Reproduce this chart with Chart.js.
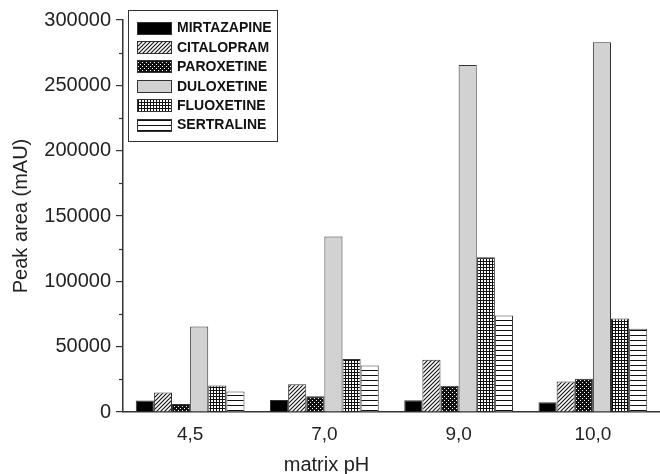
<!DOCTYPE html>
<html>
<head>
<meta charset="utf-8">
<script src="https://cdn.jsdelivr.net/npm/chart.js@4.4.0/dist/chart.umd.min.js"></script>
<style>
  html, body { margin: 0; padding: 0; background: #fff; }
  #wrap { width: 660px; height: 474px; }
</style>
</head>
<body>
<div id="wrap"><canvas id="grafico" width="660" height="474"></canvas></div>
<script>
// dados
const categorias = ['4,5', '7,0', '9,0', '10,0'];
const mirtazapina = [8800, 9200, 9000, 7500];
const citalopram = [15000, 21200, 40000, 23400];
const paroxetina = [6200, 12000, 20000, 25400];
const duloxetina = [65500, 134300, 265600, 283000];
const fluoxetina = [20200, 40500, 118500, 71500];
const sertralina = [15600, 35600, 73800, 63800];
const nomes = ['MIRTAZAPINE', 'CITALOPRAM', 'PAROXETINE', 'DULOXETINE', 'FLUOXETINE', 'SERTRALINE'];
const ticksY = [0, 50000, 100000, 150000, 200000, 250000, 300000];
const tituloX = 'matrix pH';

const escuro = '#333333';
const fonte = '"Liberation Sans", Arial, sans-serif';

// cria padrões de preenchimento
function padrao(tam, desenhar) {
  const c = document.createElement('canvas');
  c.width = tam;
  c.height = tam;
  const g = c.getContext('2d');
  g.fillStyle = '#ffffff';
  g.fillRect(0, 0, tam, tam);
  desenhar(g, tam);
  return document.getElementById('grafico').getContext('2d').createPattern(c, 'repeat');
}

const hachurado = padrao(4, (g, t) => {
  g.strokeStyle = '#111';
  g.lineWidth = 1.1;
  g.beginPath();
  g.moveTo(0, t); g.lineTo(t, 0);
  g.moveTo(-1, 1); g.lineTo(1, -1);
  g.moveTo(t - 1, t + 1); g.lineTo(t + 1, t - 1);
  g.stroke();
});

const pontilhado = padrao(4, (g, t) => {
  g.fillStyle = '#111';
  g.fillRect(0, 0, t, t);
  g.fillStyle = '#ffffff';
  g.fillRect(0, 0, 1, 1);
  g.fillRect(2, 2, 1, 1);
});

const grade = padrao(3, (g, t) => {
  g.fillStyle = '#111';
  g.fillRect(0, 0, t, 1);
  g.fillRect(0, 0, 1, t);
});

const listras = padrao(5, (g, t) => {
  g.fillStyle = '#111';
  g.fillRect(0, 0, t, 1);
});

const fundos = ['#000000', hachurado, pontilhado, '#d2d2d2', grade, listras];
const series = [mirtazapina, citalopram, paroxetina, duloxetina, fluoxetina, sertralina];

// legenda dentro da área do gráfico
const legendaCaixa = {
  id: 'legendaCaixa',
  afterDraw(chart) {
    const ctx = chart.ctx;
    const x0 = chart.chartArea.left + 5;
    const y0 = 10;
    ctx.save();
    ctx.fillStyle = '#fff';
    ctx.fillRect(x0 + 0.5, y0 + 0.5, 149, 131);
    ctx.strokeStyle = escuro;
    ctx.lineWidth = 1;
    ctx.strokeRect(x0 + 0.5, y0 + 0.5, 149, 131);
    ctx.font = 'bold 14px ' + fonte;
    ctx.textBaseline = 'middle';
    chart.data.datasets.forEach((ds, i) => {
      const cy = 27.5 + i * 19.4;
      ctx.fillStyle = ds.backgroundColor;
      ctx.fillRect(x0 + 9, Math.round(cy - 6), 34, 12);
      ctx.strokeStyle = escuro;
      ctx.strokeRect(x0 + 9.5, Math.round(cy - 6) + 0.5, 34, 12);
      ctx.fillStyle = '#111';
      ctx.fillText(ds.label, x0 + 49, cy + 1);
    });
    ctx.restore();
  }
};

// pequenos traços secundários no eixo Y e título do eixo X
const extras = {
  id: 'extras',
  afterDraw(chart) {
    const y = chart.scales.y;
    const x = chart.scales.x;
    const ctx = chart.ctx;
    ctx.save();
    ctx.strokeStyle = escuro;
    ctx.lineWidth = 1.2;
    for (let v = 25000; v < 300000; v += 50000) {
      const py = Math.round(y.getPixelForValue(v)) + 0.5;
      ctx.beginPath();
      ctx.moveTo(y.right - 4, py);
      ctx.lineTo(y.right, py);
      ctx.stroke();
    }
    // título do eixo X fica um pouco à esquerda do centro, como no original
    ctx.fillStyle = '#222';
    ctx.font = '20px ' + fonte;
    ctx.textAlign = 'center';
    ctx.textBaseline = 'middle';
    ctx.fillText(tituloX, (x.getPixelForValue(1) + x.getPixelForValue(2)) / 2 - 65, 465);
    ctx.restore();
  }
};

new Chart(document.getElementById('grafico'), {
  type: 'bar',
  data: {
    labels: categorias,
    datasets: series.map((dados, i) => ({
      label: nomes[i],
      data: dados,
      backgroundColor: fundos[i],
      borderColor: escuro,
      borderWidth: 1,
      borderSkipped: 'bottom',
      categoryPercentage: 0.81,
      barPercentage: 1.0
    }))
  },
  options: {
    responsive: false,
    animation: false,
    layout: { padding: { top: 20, right: 0, left: 0, bottom: 0 } },
    plugins: {
      legend: { display: false },
      tooltip: { enabled: false }
    },
    scales: {
      x: {
        offset: true,
        grid: { display: false, drawTicks: false },
        border: { display: true, color: escuro, width: 1.5 },
        ticks: { color: '#222', font: { family: fonte, size: 19 }, padding: 11 },
        title: { display: false },
        afterFit(scale) { scale.height = 62; }
      },
      y: {
        min: 0,
        max: 300000,
        afterBuildTicks(scale) { scale.ticks = ticksY.map(v => ({ value: v })); },
        grid: { drawOnChartArea: false, drawTicks: true, tickLength: 7, color: escuro, lineWidth: 1.2 },
        border: { display: true, color: escuro, width: 1.5 },
        ticks: { color: '#222', font: { family: fonte, size: 20 }, padding: 5, callback: v => String(v) },
        title: { display: true, text: 'Peak area (mAU)', color: '#222', font: { family: fonte, size: 20 }, padding: { top: 9, bottom: 0 } },
        afterFit(scale) { scale.width = 123; }
      }
    }
  },
  plugins: [extras, legendaCaixa]
});
</script>
</body>
</html>
